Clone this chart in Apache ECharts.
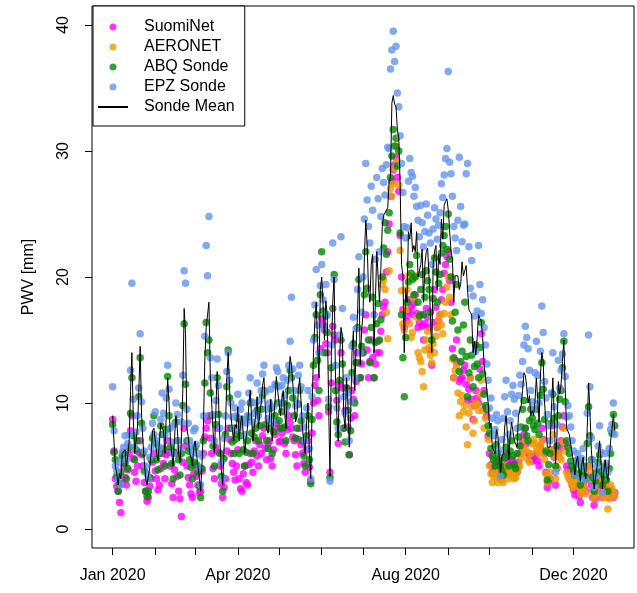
<!DOCTYPE html>
<html>
<head>
<meta charset="utf-8">
<script src="https://cdn.jsdelivr.net/npm/echarts@6/dist/echarts.min.js"></script>
<style>
html,body{margin:0;padding:0;background:#fff;}
#chart{width:637px;height:593px;}
</style>
</head>
<body>
<div id="chart"></div>
<script>
// Day 0 = 2020-01-01; one value per day
const stepDays = 1;
const monthTickDays = [0, 31, 60, 91, 121, 152, 182, 213, 244, 274, 305, 335];
const labelDays = [0, 91, 213, 335];
const labelTexts = ['Jan 2020', 'Apr 2020', 'Aug 2020', 'Dec 2020'];
const yTicks = [0, 10, 20, 30, 40];

const suomiNet = [
  8.7,6.2, 4,3.4, 3,2.1, 1.3,3.6, 5,4.1, 3.5,4.7, 6,7.8, 9,5.6, 4.5,3.8, 5,6.1, 7,5.9, 5,3.7, 3,2.2, 2.5,3.4, 4,5.3, 6,4.6,
  4,3.1, 3.5,4.8, 6,5.2, 4,5.9, 7,6.1, 5,3.6, 2.5,4.7, 6,4.2, 3,2.4, 1,5.3, 8,6.6, 5,4.1, 3.5,2.8, 2.5,4.4,
  5,4.2, 3.5,2.9, 3,4.6, 6,7.3, 8,8.6, 9,7.2, 6,4.8, 4,6.5, 8,6.1, 5,3.6, 2.5,3.3, 4,6.2, 8,7.1, 6,5.2, 4.5,3.9, 5,6.3,
  4,3.2, 3,4.4, 5,3.7, 3.5,5.1, 6,5.3, 4.5,6.2, 7,5.8, 5,6.7, 6,7.4, 8,6.4, 5.5,6.8, 7,5.6, 5,6.3, 7.5,8.4, 8,6.9,
  7,7.6, 8,6.8, 6,7.9, 9,8.5, 8,7.3, 7,5.9, 5,7.1, 8,6.7, 6,5.2, 4.5,6.3, 7,4.9, 3.8,7.6, 10,11.4, 12,10.2, 9,14.3,
  16.7,16.2, 15.8,14.7, 14,9.3, 4.5,11.6, 16.1,15.4, 15,10.2, 6.8,11.5, 14,11.2, 8,9.4, 11.2,8.1, 5.9,8.8, 11,10.3, 9,11.7, 14,13.2, 12,13.1,
  14,15.8, 17,14.2, 12,13.3, 15,13.6, 12,13.1, 14,14.9, 14,15.7, 17,17.6, 18,20.4, 22,24.2, 26.4,27.6, 28.5,28.9, 29.5,27.9, 26.8,23.3, 20,17.4, 16,16.9,
  16.5,17.3, 18.2,17.6, 17,17.9, 18.6,17.1, 16,16.4, 17,16.1, 15,16.3, 17.5,16.8, 16,14.2, 13,16.4, 19,17.6, 16,16.5, 17,18.2, 19,20.3, 21,21.6,
  22,19.7, 18,14.3, 12,13.4, 15,13.2, 11.7,11.9, 12,12.6, 13,11.5, 10.2,11.1, 12,10.3, 8.7,9.8, 11,10.4, 10,12.7, 15.5,13.3, 11,9.6, 9,7.4,
  6,5.1, 4.5,4.8, 5,5.3, 5.5,4.6, 4,4.4, 5,5.6, 6,5.2, 4.5,5.1, 5.5,5.3, 5,4.7, 4.5,5.3, 6,6.6, 7,7.5, 8,6.8, 6,5.8, 5.5,5.6,
  5.4,5.8, 6,5.4, 5,6.6, 8,7.1, 6,4.5, 3.3,3.7, 4,6.3, 8.2,5.7, 3.5,4.8, 6,6.4, 7,8.1, 9,6.8, 5,4.7, 4.5,3.9, 3.5,3.1,
  2.7,3.1, 3.5,2.6, 2.1,2.9, 3.5,3.2, 3,4.1, 5,4.2, 3.5,2.5, 1.9,2.4, 3,3.6, 4,3.1, 2.5,3.2, 3.5,2.8, 2.5,2.7, 3,2.8, 2.5,2.9
];

const aeronetStartDay = 196;
const aeronet = [
  19.4,19.8, 19,17.2, 15.1,20.5, 27,26.4, 27.4,28.6, 30.4,29.2, 27.3,22.1, 18.9,16.3, 15.8,17.4,
  19,20.1, 16.3,15.2, 15.6,18.3, 20.1,16.8, 14,13.6, 13.3,12.5, 11.3,14.2, 15,15.7, 14.4,13.8, 13.2,14.7, 14,15.3, 16,16.6, 17,16.2, 15.5,17.1, 18,19.2,
  20,18.4, 17,13.5, 12,12.6, 13,10.8, 9,10.1, 10.6,9.3, 9.8,8.1, 6.7,9.2, 12,9.7, 7.6,8.6, 10,9.9, 9.4,10.7, 11.8,9.4, 8,8.8, 9.5,7.1,
  5,4.4, 3.7,4.2, 4.5,4.1, 3.7,4.6, 4,3.9, 3.7,4.3, 5,4.7, 4,4.3, 4.5,4.8, 4,4.1, 4.5,4.9, 5,5.6, 6,6.4, 7,6.2, 5.5,5.3, 6,6.8,
  7.1,6.8, 6.5,6.2, 6,6.6, 7,6.1, 5.5,4.4, 3.7,4.1, 4.5,6.3, 7.5,5.8, 4,4.9, 6,5.7, 5.5,6.9, 8,6.2, 4.5,4.2, 4,3.8, 3.5,3.3,
  3.5,3.8, 4,3.4, 2.8,3.1, 3.5,3.2, 2.8,3.9, 5,4.6, 4,3.1, 2.4,2.7, 3,3.9, 4.5,3.6, 2.5,2.9, 3.5,2.6, 1.6,2.4, 3.5,3.2, 2.9,2.6
];

const abqSonde = [
  8.3,6.1, 5.5,4.2, 3,3.6, 4.5,5.8, 6,5.2, 4,4.8, 6.5,9.2, 12,7.4, 5.5,6.3, 7,10.5, 13.6,8.4, 6,4.6, 3,2.6, 3,4.1, 5.5,7.2, 9,6.8,
  5.5,4.7, 6,8.2, 7.5,6.4, 5,7.9, 12.1,9, 6.5,5.2, 4,6.1, 8.5,7, 5.5,4.3, 6,9.8, 16.3,11.5, 7,6.2, 5.5,4.9, 4,5.3,
  6.5,5.1, 4.5,3.4, 2.5,4.8, 7,11.6, 16.4,14, 15,10.8, 9,6.6, 5,8.3, 12,9.1, 6,4.2, 3,5.6, 7.5,11.3, 14.2,10.4, 8,6.9, 6,7.1, 7.5,8.8,
  6,7.4, 8.5,6.3, 5,6.1, 7,8.9, 10,7.6, 6,7.3, 8,9.4, 7,8.2, 9.5,10.6, 11,8.3, 7,6.4, 8,9.6, 6,7.7, 9,11.4, 10,8.6,
  8,9.3, 10,8.1, 7,9.8, 11,12.6, 12,10.4, 9,7.2, 8,9.9, 11,8.6, 7,5.8, 5,7.4, 9,5.5, 3.6,8.7, 13,15.2, 17,13.4, 11,18.6,
  22,17.3, 14,16.9, 15.6,9.7, 4.1,12.8, 17.5,20.2, 11,8.5, 7.5,11.8, 15,13.1, 8,6.9, 11.2,9.4, 5.9,7.8, 12.4,14.7, 10,13.2, 16,19.8, 12,14.5,
  14,18.6, 22,19.1, 15,13.2, 16,18.4, 12,14.8, 16.3,17.9, 15,16.6, 20,22.3, 24.3,21.8, 23.7,25.1, 27.9,29.6, 31.7,30.4, 31,28.8, 30,23.5, 17,13.6, 10.5,15.2,
  18,19.6, 21,20.3, 19.8,18.6, 20,21.7, 18,16.9, 19,20.2, 17,18.4, 20.5,19.7, 19,17.2, 15,18.3, 21.5,20.4, 18,19.5, 20.2,21.9, 22.5,23.3, 24,22.2,
  25,21.4, 20,16.5, 13.6,17.2, 19.4,15.8, 12.5,13.3, 14.1,16.2, 18,13.7, 10.5,12.4, 15,13.8, 11.3,12.9, 14.6,13.1, 12,14.4, 16.4,12.3, 10.7,9.8, 9.5,8.2,
  7.6,6.4, 5.8,5.5, 5,6.7, 6,5.4, 5,4.6, 4.3,5.7, 6.5,5.9, 5,6.2, 7,5.8, 5.1,4.8, 6,7.3, 6.6,8.1, 9.5,10.2, 8,7.4, 7,8.6, 9.5,8.8,
  8.2,7.9, 9.5,8.4, 7.5,10.6, 13.2,11.1, 8.7,6.2, 3.9,5.1, 6,8.4, 10.7,8.8, 5,6.6, 9,10.3, 11,12.8, 14.9,10.1, 7,6.5, 6,5.4, 5,4.7,
  4.3,5.2, 5.5,4.4, 3.5,4.6, 5,4.2, 4,6.8, 9.7,7.4, 5.5,4.1, 3,3.8, 4.5,5.3, 5.9,4.6, 3.5,4.3, 5,3.9, 3,4.8, 6,7.6, 9.1,8.2
];

const epzSonde = [
  11.3,7.8, 5,4.6, 4,5.3, 3.5,6.1, 6.5,7.4, 5.5,6.8, 7.5,12.6, 19.5,10.3, 6.5,7.7, 9,11.2, 15.5,10.1, 8,6.2, 5,4.4, 4,5.7, 6.5,8.4, 7.5,9.3,
  7,6.1, 6.5,8.7, 10.8,9.2, 7.5,10.4, 13,11.1, 8,6.9, 6,8.3, 10,9.1, 7,6.4, 8.5,12.2, 20.5,19.5, 9.5,8.4, 7,6.6, 6,7.8,
  8,6.7, 6,4.9, 3.5,5.8, 9,15.3, 22.5,20.1, 24.8,13.6, 12,9.1, 7,10.2, 13.5,11.4, 8,5.3, 4,7.2, 9,12.5, 14,11.8, 10,8.9, 8,9.6, 9,10.7,
  8,9.5, 10,8.7, 7.5,8.4, 9,10.8, 12,10.1, 8.5,9.2, 10,11.6, 9,10.2, 11,12.3, 13,10.9, 9.5,8.8, 10,11.1, 8.5,9.7, 11.5,12.8, 12.5,11.3,
  10,11.4, 12,10.6, 9.5,11.8, 13,14.9, 18.4,12.7, 11,9.8, 10,12.2, 13,11.3, 9,8.1, 7,9.6, 11,6.4, 4,10.5, 15,17.8, 20.6,16.2, 14,19.3,
  21,18.2, 16,19.4, 17,10.3, 3.8,14.6, 22.7,19.8, 13,9.6, 8,15.4, 23.2,17.5, 10.5,9.2, 12,10.8, 7,10.1, 14.5,16.8, 12,15.9, 19,21.6, 14,17.2,
  20,24.6, 29,26.1, 24,22.7, 27.2,25.3, 17,21.4, 27.9,26.2, 22,24.8, 28.6,27.5, 26.5,28.9, 30.3,30.2, 36.5,38, 39.5,37.1, 38.3,34.6, 33.5,31.2, 29,26.7, 24,23.1,
  23.9,27.6, 29.4,28.3, 28,26.4, 27.1,25.6, 24.5,23.2, 25.7,24.3, 22.4,23.6, 25.8,24.9, 23.5,22.7, 21,23.8, 25.5,24.6, 23,24.1, 25.1,27.4, 26.3,28.1, 29.4,30.2,
  36.3,29.1, 28.2,26.4, 24,23.1, 22.1,24.5, 29.5,25.6, 22.8,24.1, 24.2,28.2, 29,22.4, 19.1,21.3, 18.5,16.9, 14.1,17.3, 22.5,19.4, 17.1,18.2, 16,14.6, 13.1,11.8,
  9.6,10.4, 8.8,7.4, 7.9,9.1, 8.6,6.3, 4.2,7.1, 8.8,10.5, 11.8,9.3, 7.5,8.6, 10.7,11.4, 10.3,9.2, 8,10.6, 12.2,11.5, 13.3,14.6, 16.1,15.2, 14.3,12.6, 11,10.1,
  9.5,12.4, 14.9,12.2, 10,14.1, 17.7,15.6, 11.7,10.4, 9.1,8.2, 7,10.8, 14,9.7, 4.5,8.3, 13.4,11.2, 12.6,13.9, 15.5,12.1, 8.9,9.8, 9,8.1, 7,6.2,
  4.3,5.4, 6,5.1, 4,5.6, 6.4,4.8, 3.9,9.2, 15.4,11.3, 7.2,5.5, 3.3,4.2, 5,6.6, 8.2,6.1, 2.9,4.7, 6,5.2, 4.5,6.4, 7.9,8.3, 10,7.5
];

const sondeMean = [
  9,6.9, 5,4.4, 3.5,4.4, 4,6, 6,6.3, 5,5.8, 7,10.9, 14,8.8, 6,7, 8,10.8, 14.5,9.2, 7,5.4, 4,3.5, 3.5,4.9, 6,7.8, 8,8,
  6,5.4, 5.5,8.4, 8,7.8, 6,9.1, 12,10, 7,6, 5,7.2, 9,8, 6,5.3, 7,11, 17.5,15.5, 8,7.3, 6,5.7, 5,6.5,
  7,5.9, 5,4.1, 3,5.3, 8,13.4, 16,17, 18,12.2, 10,7.8, 6,9.2, 12.5,10.2, 7,4.7, 3.5,6.4, 8,11.9, 14,11.1, 9,7.9, 7,8.3, 8,9.7,
  7,8.4, 9,7.5, 6,7.2, 8,9.8, 11,8.8, 7,8.2, 9,10.5, 8,9.2, 10,11.4, 12,9.6, 8,7.6, 9,10.3, 7,8.7, 10,12.1, 11,10,
  9,10.3, 11,9.3, 8,10.8, 12,13.7, 13,11.5, 10,8.5, 9,11, 12,10, 8,6.9, 6,8.5, 10,6, 4,9.6, 14,16.5, 18,14.8, 12,19,
  20,17.7, 15,18.1, 17,10, 4.2,13.7, 18,20, 12,9, 7,13.6, 16,15.3, 9,8, 12,10.1, 6.5,9, 14,15.7, 11,14.5, 17,20.7, 13,15.8,
  17,21.6, 24.5,22.6, 19,18, 21,21.8, 14,18.1, 22,22, 18,20.7, 24,24.9, 25,25.3, 25.5,27.6, 28,33.8, 34.4,33.7, 33.5,31.7, 31,27.3, 21,20.1, 14,19.1,
  18,23.6, 23,24.3, 22,22.5, 22,23.6, 20,20, 21,22.2, 18,21, 22,22.3, 20,19.9, 14,21, 22,22.5, 19,21.8, 21,24.6, 23,25.7, 26,26.2,
  25.3,25.2, 22,21.4, 18,20.1, 20,20.1, 19,19.4, 21.2,20.1, 20,20.9, 19,17.4, 17.2,17, 14,14.9, 13.8,15.2, 17,16.7, 16.5,15.2, 13,12.2, 11,10,
  8,8.4, 6.5,6.4, 6,7.9, 7.5,5.8, 4.5,5.8, 6,8.1, 9,7.6, 5.5,7.4, 8.5,8.6, 7,7, 6.5,9, 9,9.8, 11,12.4, 12.2,11.3, 10,10.6, 9,9.4,
  9,10.1, 12,10.3, 8.5,12.3, 14,13.3, 10,8.3, 6.5,6.6, 6.5,9.6, 12,9.2, 5.2,7.4, 11.7,10.7, 11.5,13.3, 15,11.1, 8,8.1, 7.5,6.7, 6,5.4,
  4.3,5.3, 5.8,4.7, 3.8,5.1, 5.7,4.5, 4,8, 11.6,9.3, 6.3,4.8, 3.2,4, 4.8,5.9, 7,5.3, 3.2,4.5, 5.5,4.5, 3.8,5.6, 7,7.9, 9.1,7.8
];

const toPairs = (arr, start) => arr.map((v, i) => [start + i * stepDays, v]);
const FONT = "'Liberation Sans', Arial, Helvetica, sans-serif";
const DOT = 7.5;

const chart = echarts.init(document.getElementById('chart'), null, {renderer: 'canvas'});
chart.setOption({
  animation: false,
  backgroundColor: '#fff',
  textStyle: {fontFamily: FONT},
  grid: {left: 92, right: 3, top: 6, bottom: 45, show: true, borderColor: '#000', borderWidth: 1, backgroundColor: 'transparent'},
  legend: {
    left: 93, top: 6, orient: 'vertical',
    backgroundColor: '#fff',
    borderColor: '#000', borderWidth: 1,
    padding: [13, 10, 11, 4],
    itemWidth: 30, itemHeight: 7, itemGap: 4,
    selectedMode: false,
    textStyle: {fontSize: 16, color: '#000', fontFamily: FONT, lineHeight: 16, padding: [0, 0, 0, 11]},
    data: [
      {name: 'SuomiNet', icon: 'circle'},
      {name: 'AERONET', icon: 'circle'},
      {name: 'ABQ Sonde', icon: 'circle'},
      {name: 'EPZ Sonde', icon: 'circle'},
      {name: 'Sonde Mean', icon: 'inherit', itemStyle: {opacity: 0}}
    ]
  },
  xAxis: {
    type: 'value', min: -15, max: 379,
    axisLine: {show: false, onZero: false},
    splitLine: {show: false},
    axisTick: {show: true, length: 7, customValues: monthTickDays, lineStyle: {color: '#000', width: 1}},
    axisLabel: {
      customValues: labelDays, fontSize: 16, color: '#000', fontFamily: FONT, margin: 20,
      formatter: v => labelTexts[labelDays.indexOf(v)] || ''
    }
  },
  yAxis: {
    type: 'value', min: -1.5, max: 41.5,
    axisLine: {show: false, onZero: false},
    splitLine: {show: false},
    axisTick: {show: true, length: 7, customValues: yTicks, lineStyle: {color: '#000', width: 1}},
    axisLabel: {customValues: yTicks, fontSize: 16, color: '#000', fontFamily: FONT, rotate: 90, margin: 20},
    name: 'PWV [mm]', nameLocation: 'middle', nameGap: 55, nameRotate: 90,
    nameTextStyle: {fontSize: 16, color: '#000', fontFamily: FONT}
  },
  series: [
    {name: 'SuomiNet', type: 'scatter', symbolSize: DOT, itemStyle: {color: '#FF00FF'}, data: toPairs(suomiNet, 0)},
    {name: 'AERONET', type: 'scatter', symbolSize: DOT, itemStyle: {color: '#EE9A00'}, data: toPairs(aeronet, aeronetStartDay)},
    {name: 'ABQ Sonde', type: 'scatter', symbolSize: DOT, itemStyle: {color: '#008B00'}, data: toPairs(abqSonde, 0)},
    {name: 'EPZ Sonde', type: 'scatter', symbolSize: DOT, itemStyle: {color: '#6495ED'}, data: toPairs(epzSonde, 0)},
    {name: 'Sonde Mean', type: 'line', symbol: 'none', showSymbol: false, lineStyle: {color: '#000', width: 1}, itemStyle: {color: '#000'}, data: toPairs(sondeMean, 0)}
  ]
});
</script>
</body>
</html>
